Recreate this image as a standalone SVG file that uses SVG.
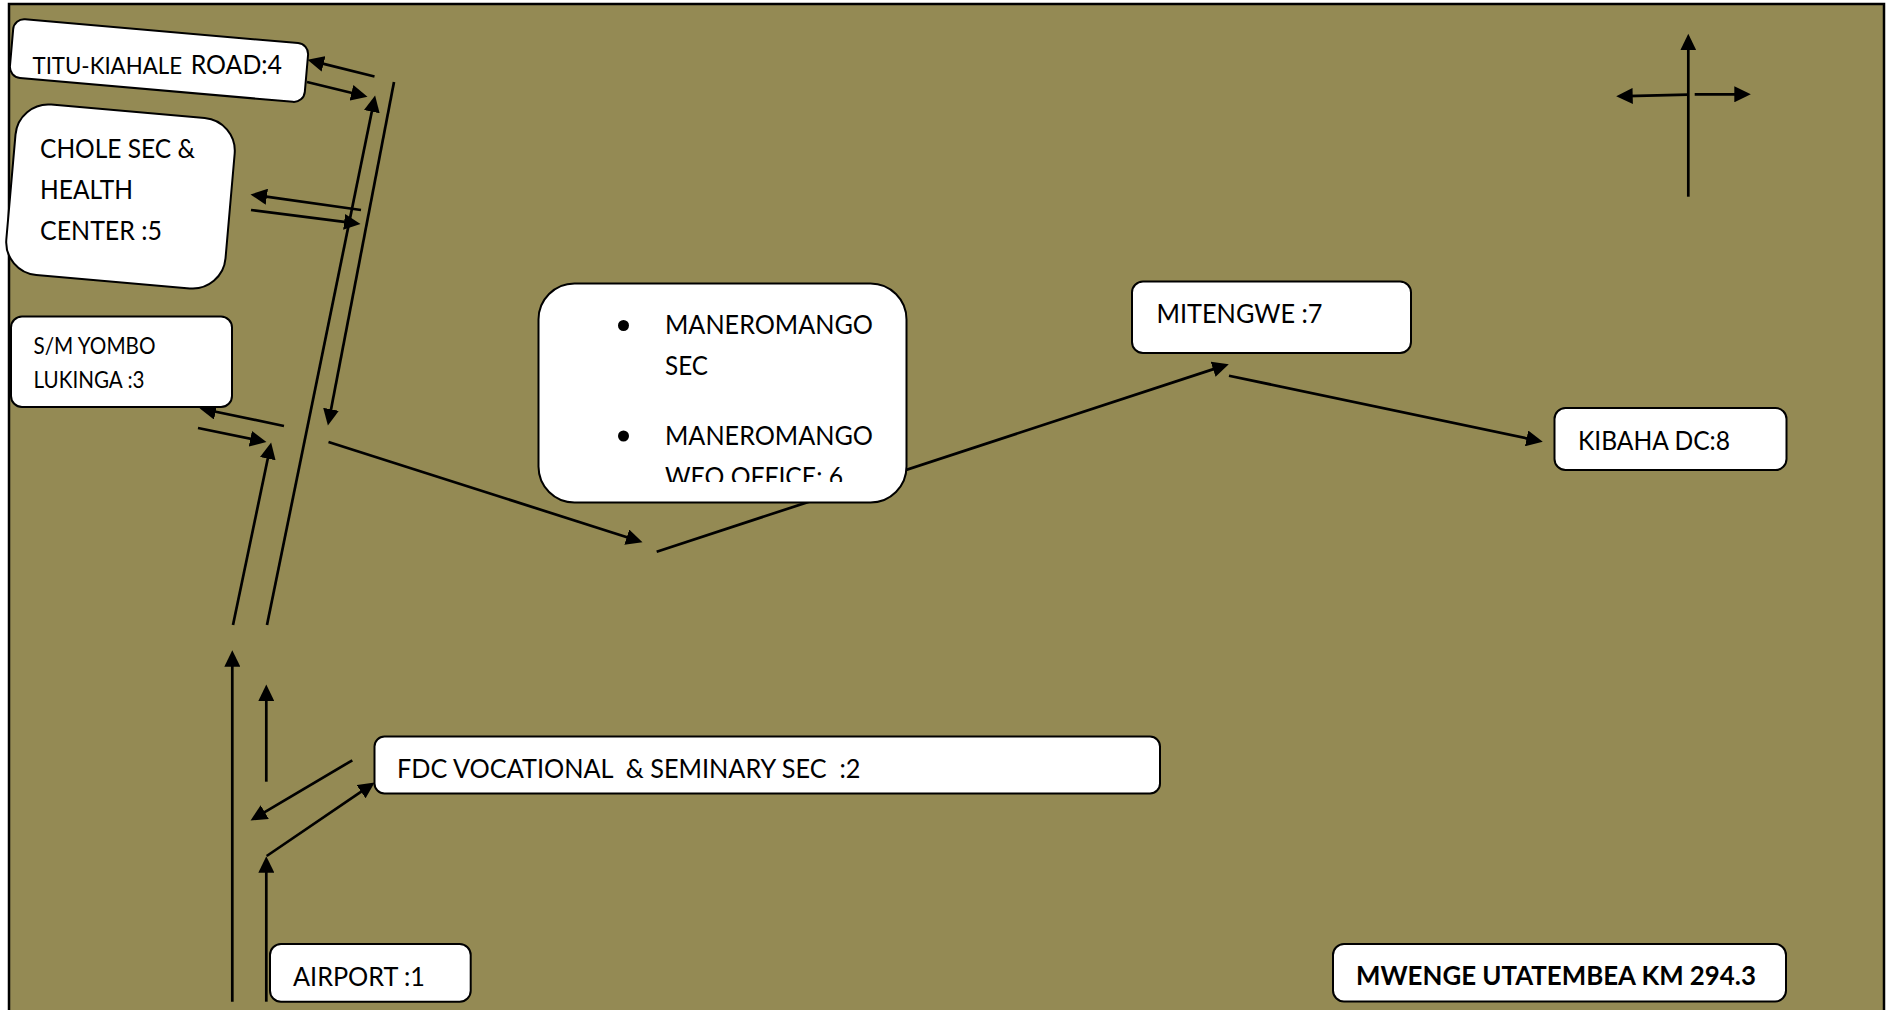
<svg xmlns="http://www.w3.org/2000/svg" width="1893" height="1010" viewBox="0 0 1893 1010">
<style>
.n{fill:#fff;stroke:#000;stroke-width:2}
.t{font-family:Lato,"Liberation Sans",sans-serif;font-size:26.500px;fill:#000}
.s{font-size:22.500px}
.b{font-weight:700}
.c line{stroke:#000;stroke-width:2.700;marker-end:url(#a)}
</style>
<defs>
<marker id="a" markerUnits="userSpaceOnUse" markerWidth="17" markerHeight="16" refX="6" refY="8" orient="auto"><path d="M0,0L16.500,8L0,16z" fill="#000"/></marker>
<clipPath id="cut"><rect x="540" y="285" width="365" height="197"/></clipPath>
</defs>
<rect width="1893" height="1010" fill="#fff"/>
<rect x="9" y="4" width="1875" height="1030" fill="#948a54" stroke="#000" stroke-width="2.500"/>
<g id="connectors" class="c">
<line x1="374.500" y1="76.500" x2="317.700" y2="62.400"/>
<line x1="307" y1="82" x2="357.300" y2="94.200"/>
<line x1="267" y1="625" x2="373" y2="105.800"/>
<line x1="394" y1="82" x2="329.900" y2="415.200"/>
<line x1="361" y1="210" x2="260.900" y2="195.900"/>
<line x1="251" y1="210" x2="350.100" y2="222.700"/>
<line x1="284" y1="426" x2="209.800" y2="410.500"/>
<line x1="198" y1="428" x2="256.200" y2="440"/>
<line x1="233" y1="625" x2="269" y2="452.800"/>
<line x1="328.500" y1="442" x2="632.500" y2="539"/>
<line x1="656.700" y1="551.700" x2="1218.800" y2="367.400"/>
<line x1="1229" y1="375.700" x2="1532.500" y2="439.600"/>
<line x1="1688.300" y1="196.700" x2="1688.300" y2="44.300"/>
<line x1="1687.700" y1="94.700" x2="1626.700" y2="96.100"/>
<line x1="1694.700" y1="94.300" x2="1740.300" y2="94.300"/>
<line x1="232.300" y1="1001.700" x2="232.300" y2="660.700"/>
<line x1="266.300" y1="781.700" x2="266.300" y2="695"/>
<line x1="352.300" y1="760.300" x2="259.600" y2="815.200"/>
<line x1="266.700" y1="856" x2="366" y2="788.300"/>
<line x1="266.300" y1="1001.700" x2="266.300" y2="866.700"/>
</g>
<g id="node-1"><rect class="n" x="270" y="944" width="200.700" height="57.700" rx="11"/><text class="t" x="293" y="986" textLength="132" lengthAdjust="spacingAndGlyphs">AIRPORT :1</text></g>
<g id="node-2"><rect class="n" x="374.500" y="736.500" width="785.500" height="57" rx="10"/><text class="t" xml:space="preserve" x="397" y="778" textLength="463.500" lengthAdjust="spacingAndGlyphs">FDC VOCATIONAL  &amp; SEMINARY SEC  :2</text></g>
<g id="node-3"><rect class="n" x="11" y="316.500" width="221" height="90.500" rx="11"/><text class="t s" x="33.500" y="354" textLength="122" lengthAdjust="spacingAndGlyphs">S/M YOMBO</text><text class="t s" x="33.500" y="388" textLength="111" lengthAdjust="spacingAndGlyphs">LUKINGA :3</text></g>
<g id="node-4"><rect class="n" x="11" y="31" width="296" height="59" rx="11" transform="rotate(5 158.700 60.500)"/><text class="t" y="73.500"><tspan class="s" x="32.500" textLength="149.500" lengthAdjust="spacingAndGlyphs">TITU-KIAHALE</tspan><tspan x="190.700" textLength="91.300" lengthAdjust="spacingAndGlyphs">ROAD:4</tspan></text></g>
<g id="node-5"><rect class="n" x="10.500" y="111" width="220" height="171" rx="33" transform="rotate(5 120.500 196.500)"/><text class="t" x="40" y="158" textLength="155" lengthAdjust="spacingAndGlyphs">CHOLE SEC &amp;</text><text class="t" x="40" y="199" textLength="93" lengthAdjust="spacingAndGlyphs">HEALTH</text><text class="t" x="40" y="240" textLength="122" lengthAdjust="spacingAndGlyphs">CENTER :5</text></g>
<g id="node-6"><rect class="n" x="538.500" y="283.500" width="368" height="219" rx="36"/><circle cx="623.500" cy="325.500" r="5.500"/><circle cx="623.500" cy="436" r="5.500"/><text class="t" x="665" y="334" textLength="208" lengthAdjust="spacingAndGlyphs">MANEROMANGO</text><text class="t" x="665" y="375" textLength="43" lengthAdjust="spacingAndGlyphs">SEC</text><text class="t" x="665" y="445" textLength="208" lengthAdjust="spacingAndGlyphs">MANEROMANGO</text><text class="t" x="665" y="486" textLength="178" lengthAdjust="spacingAndGlyphs" clip-path="url(#cut)">WEO OFFICE: 6</text></g>
<g id="node-7"><rect class="n" x="1132" y="281.500" width="279" height="71.500" rx="11"/><text class="t" x="1156.500" y="323" textLength="166" lengthAdjust="spacingAndGlyphs">MITENGWE :7</text></g>
<g id="node-8"><rect class="n" x="1554.500" y="408" width="232" height="62" rx="11"/><text class="t" x="1578" y="449.500" textLength="152" lengthAdjust="spacingAndGlyphs">KIBAHA DC:8</text></g>
<g id="node-9"><rect class="n" x="1333" y="944" width="453" height="57.500" rx="11"/><text class="t b" x="1356" y="985" textLength="400" lengthAdjust="spacingAndGlyphs">MWENGE UTATEMBEA KM 294.3</text></g>
</svg>
